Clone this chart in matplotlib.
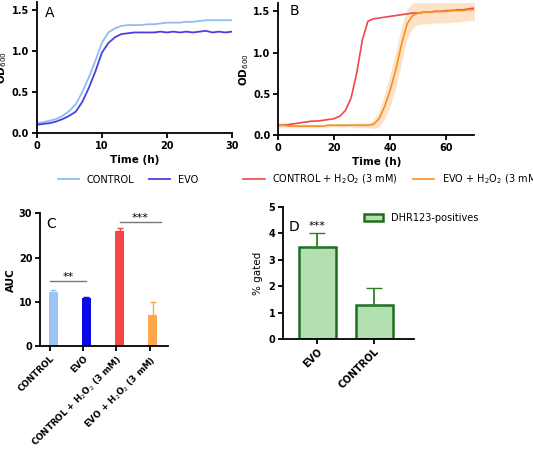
import matplotlib
matplotlib.use("Agg")
import matplotlib.pyplot as plt
import numpy as np

tA = list(range(0, 31))
ctrlA = [0.12,0.13,0.15,0.17,0.21,0.27,0.35,0.50,0.68,0.88,1.10,1.23,1.28,1.31,1.32,1.32,1.32,1.33,1.33,1.34,1.35,1.35,1.35,1.36,1.36,1.37,1.38,1.38,1.38,1.38,1.38]
evoA = [0.10,0.11,0.12,0.14,0.17,0.21,0.26,0.38,0.55,0.75,0.98,1.10,1.17,1.21,1.22,1.23,1.23,1.23,1.23,1.24,1.23,1.24,1.23,1.24,1.23,1.24,1.25,1.23,1.24,1.23,1.24]

tB = list(range(0, 72, 2))
ctrlB = [0.12,0.12,0.13,0.14,0.15,0.16,0.17,0.17,0.18,0.19,0.20,0.23,0.30,0.45,0.75,1.15,1.38,1.41,1.42,1.43,1.44,1.45,1.46,1.47,1.48,1.48,1.49,1.49,1.50,1.50,1.51,1.51,1.52,1.52,1.53,1.54]
evoB = [0.12,0.12,0.11,0.11,0.11,0.11,0.11,0.11,0.11,0.12,0.12,0.12,0.12,0.12,0.12,0.12,0.12,0.13,0.20,0.35,0.55,0.80,1.10,1.35,1.45,1.48,1.49,1.49,1.50,1.50,1.50,1.51,1.51,1.51,1.52,1.52]
evoB_sd = [0.03,0.03,0.02,0.02,0.02,0.02,0.02,0.02,0.02,0.02,0.02,0.02,0.02,0.02,0.03,0.03,0.03,0.05,0.10,0.15,0.20,0.22,0.22,0.18,0.15,0.14,0.14,0.14,0.14,0.14,0.14,0.14,0.14,0.13,0.13,0.13]

catsC = ["CONTROL", "EVO", "CONTROL + H$_2$O$_2$ (3 mM)", "EVO + H$_2$O$_2$ (3 mM)"]
aucC = [12.2, 10.8, 26.1, 7.0]
aucC_err = [0.4, 0.3, 0.6, 2.9]
colC = ["#9cc4f2", "#0a0ae6", "#f54545", "#ffa64d"]

catsD = ["EVO", "CONTROL"]
gatedD = [3.5, 1.3]
gatedD_err = [0.5, 0.65]

c_ctrl, c_evo, c_red, c_or = "#8fbdf0", "#4b3fe0", "#f04848", "#f79020"

plt.rcParams['font.family'] = ['DejaVu Sans']
fig = plt.figure(figsize=(5.33, 4.49), dpi=100)

def style(ax, fs=7):
    for s in ['top', 'right']:
        ax.spines[s].set_visible(False)
    for s in ['left', 'bottom']:
        ax.spines[s].set_linewidth(1.3)
    ax.tick_params(width=1.3, labelsize=fs, pad=2)
    for l in ax.get_xticklabels() + ax.get_yticklabels():
        l.set_fontweight('bold')

axA = fig.add_axes([0.069, 0.704, 0.366, 0.291])
lA1, = axA.plot(tA, ctrlA, color=c_ctrl, lw=1.3, label="CONTROL")
lA2, = axA.plot(tA, evoA, color=c_evo, lw=1.3, label="EVO")
axA.set_xlim(0, 30); axA.set_ylim(0, 1.6)
axA.set_xticks([0, 10, 20, 30]); axA.set_yticks([0, 0.5, 1.0, 1.5])
axA.set_xlabel("Time (h)", fontweight='bold', fontsize=7.5, labelpad=3)
axA.set_ylabel("OD$_{600}$", fontweight='bold', fontsize=7.5, labelpad=2)
axA.text(0.04, 0.97, "A", transform=axA.transAxes, fontsize=10, va='top')
style(axA)
fig.legend(handles=[lA1, lA2], loc='center', bbox_to_anchor=(0.24, 0.6), ncol=2, frameon=False, fontsize=7, handlelength=2.2, columnspacing=1.5)

axB = fig.add_axes([0.522, 0.699, 0.368, 0.294])
axB.fill_between(tB, np.array(evoB) - np.array(evoB_sd), np.array(evoB) + np.array(evoB_sd), color=c_or, alpha=0.25, lw=0)
lB1, = axB.plot(tB, ctrlB, color=c_red, lw=1.2, label="CONTROL + H$_2$O$_2$ (3 mM)")
lB2, = axB.plot(tB, evoB, color=c_or, lw=1.2, label="EVO + H$_2$O$_2$ (3 mM)")
axB.set_xlim(0, 70); axB.set_ylim(0, 1.6)
axB.set_xticks([0, 20, 40, 60]); axB.set_yticks([0, 0.5, 1.0, 1.5])
axB.set_xlabel("Time (h)", fontweight='bold', fontsize=7.5, labelpad=3)
axB.set_ylabel("OD$_{600}$", fontweight='bold', fontsize=7.5, labelpad=2)
axB.text(0.06, 0.99, "B", transform=axB.transAxes, fontsize=10, va='top')
style(axB)
fig.legend(handles=[lB1, lB2], loc='center', bbox_to_anchor=(0.735, 0.6), ncol=2, frameon=False, fontsize=7, handlelength=2.2, columnspacing=1.5)

axC = fig.add_axes([0.075, 0.229, 0.24, 0.296])
xC = np.arange(len(catsC))
axC.bar(xC + 0.1, aucC, width=0.27, color=colC)
for x, v, e, c in zip(xC, aucC, aucC_err, colC):
    axC.errorbar(x + 0.1, v, yerr=[[0], [e]], color=c, capsize=2, lw=1)
axC.plot([0, 1.1], [14.8, 14.8], color='#777777', lw=1)
axC.text(0.55, 15.0, "**", ha='center', fontsize=8)
axC.plot([2.1, 3.35], [28, 28], color='#777777', lw=1)
axC.text(2.72, 28.2, "***", ha='center', fontsize=8)
axC.set_xlim(-0.3, 3.55); axC.set_ylim(0, 30)
axC.set_yticks([0, 10, 20, 30])
axC.set_xticks(xC)
axC.set_xticklabels(catsC, rotation=45, ha='right', rotation_mode='anchor')
axC.set_ylabel("AUC", fontweight='bold', fontsize=7.5, labelpad=2)
axC.text(0.05, 0.97, "C", transform=axC.transAxes, fontsize=10, va='top')
style(axC, fs=6.3)
for l in axC.get_yticklabels():
    l.set_fontsize(7)

axD = fig.add_axes([0.531, 0.245, 0.246, 0.294])
xD = np.arange(len(catsD))
axD.bar(xD, gatedD, width=0.65, color="#b3e0b0", edgecolor="#1f6e1f", lw=1.8, label="DHR123-positives")
axD.errorbar(xD, gatedD, yerr=[[0, 0], gatedD_err], fmt='none', ecolor="#2e7d2e", capsize=6, lw=1.3)
axD.text(0, 4.15, "***", ha='center', fontsize=8)
axD.set_xlim(-0.6, 1.7); axD.set_ylim(0, 5)
axD.set_xticks(xD); axD.set_xticklabels(catsD, rotation=45, ha='right', rotation_mode='anchor')
axD.set_ylabel("% gated", fontsize=7.5)
axD.text(0.04, 0.9, "D", transform=axD.transAxes, fontsize=10, va='top')
style(axD)
axD.legend(loc='upper left', bbox_to_anchor=(0.55, 1.02), frameon=False, fontsize=7)

fig.savefig("out.png", dpi=100)
